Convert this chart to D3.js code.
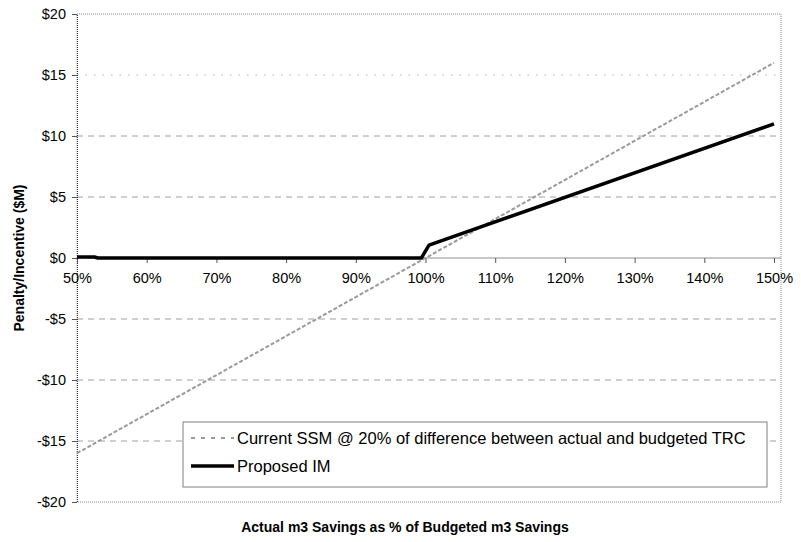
<!DOCTYPE html>
<html>
<head>
<meta charset="utf-8">
<script src="https://cdn.jsdelivr.net/npm/d3@7"></script>
<style>
  body { margin: 0; background: #fff; }
  svg text { font-family: "Liberation Sans", Arial, sans-serif; }
</style>
</head>
<body>
<div id="chart"></div>
<script>
// Chart data
const ssmX = [50, 150];
const ssmY = [-16, 16];
const imX = [50, 52.5, 53, 99.4, 100.5, 150];
const imY = [0.08, 0.08, 0, 0, 1.05, 11];
const xTicks = [50, 60, 70, 80, 90, 100, 110, 120, 130, 140, 150];
const yTicks = [-20, -15, -10, -5, 0, 5, 10, 15, 20];
const seriesNames = ['Current SSM @ 20% of difference between actual and budgeted TRC', 'Proposed IM'];

const width = 801, height = 542;
const margin = { top: 14, right: 20, bottom: 40, left: 77 };
const plotW = width - margin.left - margin.right;
const plotH = height - margin.top - margin.bottom;

const svg = d3.select('#chart').append('svg')
    .attr('width', width)
    .attr('height', height);
const g = svg.append('g')
    .attr('transform', `translate(${margin.left}, ${margin.top})`);

const x = d3.scaleLinear().domain([50, 151]).range([0, plotW]);
const y = d3.scaleLinear().domain([-20, 20]).range([plotH, 0]);

// Gridlines
g.selectAll('.grid')
  .data(yTicks.filter(v => v !== 0 && v !== 20 && v !== -20))
  .enter().append('line')
  .attr('x1', 0).attr('x2', plotW)
  .attr('y1', d => y(d)).attr('y2', d => y(d))
  .attr('stroke', d => d === 15 ? '#b0b0b0' : '#a0a0a0')
  .attr('stroke-dasharray', d => d === 15 ? '1.5,7' : '6,5');

// Plot border (dotted)
g.append('rect')
  .attr('x', 0).attr('y', 0)
  .attr('width', plotW).attr('height', plotH)
  .attr('fill', 'none')
  .attr('stroke', '#909090')
  .attr('stroke-dasharray', '1,1');

// Y axis
const yAxis = g.append('g')
  .call(d3.axisLeft(y).tickValues(yTicks).tickSize(5).tickPadding(6)
    .tickFormat(d => (d < 0 ? '-$' : '$') + Math.abs(d)));
yAxis.select('.domain').attr('stroke', '#333').attr('stroke-dasharray', '1,1');
yAxis.selectAll('.tick line').attr('stroke', '#555');
yAxis.selectAll('text').attr('font-size', 14.5).attr('fill', '#000');

// X axis at zero
const xAxis = g.append('g')
  .attr('transform', `translate(0, ${y(0)})`)
  .call(d3.axisBottom(x).tickValues(xTicks).tickSize(5).tickPadding(10)
    .tickFormat(d => d + '%'));
xAxis.select('.domain').attr('stroke', '#909090').attr('d', `M0,0H${plotW}`);
xAxis.selectAll('.tick line').attr('stroke', '#555');
xAxis.selectAll('text').attr('font-size', 14.5).attr('fill', '#000');

// Series
const line = d3.line().x(d => x(d[0])).y(d => y(d[1]));

g.append('path')
  .datum(d3.zip(ssmX, ssmY))
  .attr('d', line)
  .attr('fill', 'none')
  .attr('stroke', '#9a9a9a')
  .attr('stroke-width', 2)
  .attr('stroke-dasharray', '4,2');

g.append('path')
  .datum(d3.zip(imX, imY))
  .attr('d', line)
  .attr('fill', 'none')
  .attr('stroke', '#000')
  .attr('stroke-width', 3.5)
  .attr('stroke-linejoin', 'round');

// Legend
const legend = svg.append('g').attr('transform', 'translate(183, 422)');
legend.append('rect')
  .attr('width', 584).attr('height', 65)
  .attr('fill', '#fff')
  .attr('stroke', '#808080');
const items = legend.selectAll('.item')
  .data(seriesNames)
  .enter().append('g')
  .attr('transform', (d, i) => `translate(0, ${16 + i * 28})`);
items.append('line')
  .attr('x1', 8).attr('x2', 51)
  .attr('stroke', (d, i) => i === 0 ? '#9a9a9a' : '#000')
  .attr('stroke-width', (d, i) => i === 0 ? 2 : 3.5)
  .attr('stroke-dasharray', (d, i) => i === 0 ? '4,6' : null);
items.append('text')
  .attr('x', 54).attr('dy', 6)
  .attr('font-size', 16.5)
  .text(d => d);

// Axis titles
svg.append('text')
  .attr('x', 405).attr('y', 532)
  .attr('text-anchor', 'middle')
  .attr('font-size', 14).attr('font-weight', 'bold')
  .text('Actual m3 Savings as % of Budgeted m3 Savings');

svg.append('text')
  .attr('transform', `translate(24, ${y(0) + margin.top}) rotate(-90)`)
  .attr('text-anchor', 'middle')
  .attr('font-size', 14).attr('font-weight', 'bold')
  .text('Penalty/Incentive ($M)');
</script>
</body>
</html>
